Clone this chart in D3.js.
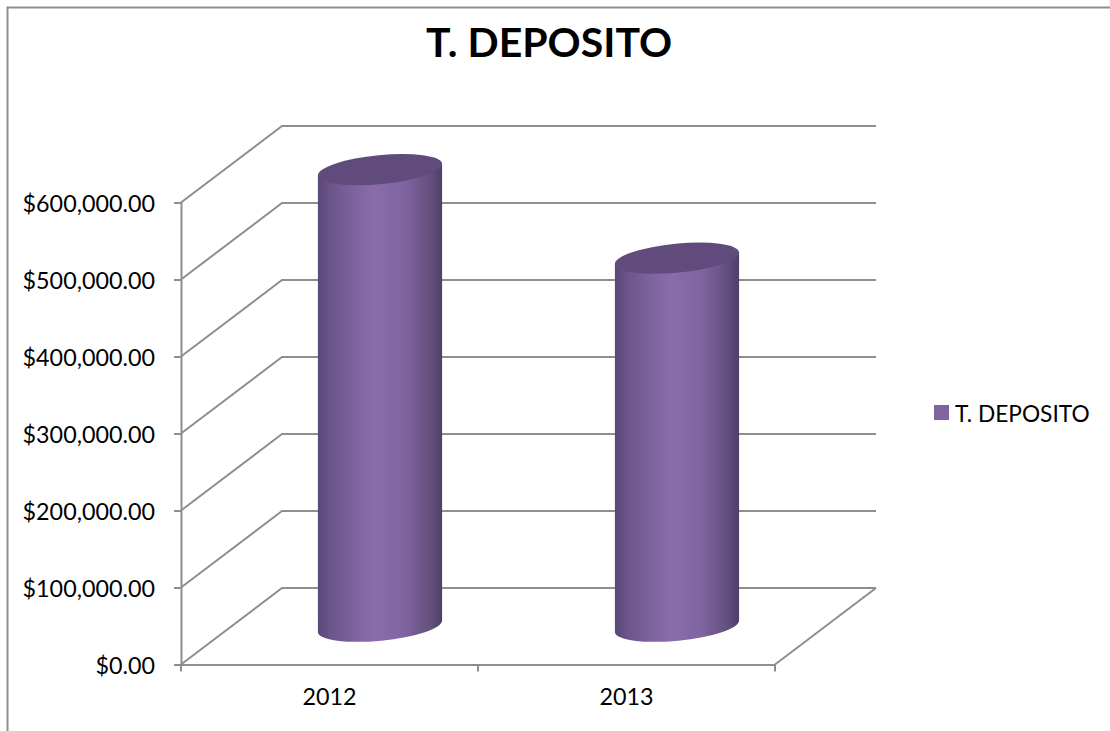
<!DOCTYPE html>
<html>
<head>
<meta charset="utf-8">
<script src="https://cdn.jsdelivr.net/npm/d3@7"></script>
<style>
html,body{margin:0;padding:0;background:#fff;overflow:hidden}
text{font-family:Lato,"Open Sans",sans-serif;fill:#000}
</style>
</head>
<body>
<svg id="chart" width="1110" height="731"></svg>
<script>
const chartTitle = "T. DEPOSITO";
const categories = ["2012", "2013"];
const seriesName = "T. DEPOSITO";
const seriesValues = [593000, 478000];
const yTicks = [0, 100000, 200000, 300000, 400000, 500000, 600000];

const gridColor = "#8e8e8e";
const svg = d3.select("#chart");
const depth = {dx: 101, dy: -76.5};

const x = d3.scaleBand().domain(categories).range([181, 775]);
const y = d3.scaleLinear().domain([0, 600000]).range([664.5, 202.5]);

// frame
svg.append("path").attr("d", "M7.5,731V7.5H1110").attr("fill", "none")
  .attr("stroke", "#8e8e8e").attr("stroke-width", 2);

// title
svg.append("text").attr("x", 549).attr("y", 57).attr("text-anchor", "middle")
  .attr("font-size", 41).attr("font-weight", 700).text(chartTitle);

// gradient
const defs = svg.append("defs");
const grad = defs.append("linearGradient").attr("id", "cyl");
[[0, "#5a4875"], [0.1, "#6b5589"], [0.3, "#7e63a0"], [0.45, "#8a6cab"], [0.7, "#7f64a0"], [0.9, "#64507f"], [1, "#4f3f68"]]
  .forEach(([o, c]) => grad.append("stop").attr("offset", o).attr("stop-color", c));

// grid: back wall, side wall, floor
const gridG = svg.append("g").attr("fill", "none").attr("stroke", gridColor).attr("stroke-width", 2);
yTicks.forEach(t => {
  gridG.append("path").attr("d", d3.line()([
    [x.range()[0], y(t)],
    [x.range()[0] + depth.dx, y(t) + depth.dy],
    [x.range()[1] + depth.dx, y(t) + depth.dy]
  ]));
});
gridG.append("line").attr("x1", x.range()[1]).attr("y1", y(0))
  .attr("x2", x.range()[1] + depth.dx).attr("y2", y(0) + depth.dy);

// y axis
const yAxis = d3.axisLeft(y).tickValues(yTicks).tickFormat(d3.format("$,.2f")).tickSize(7).tickPadding(19);
const yG = svg.append("g").attr("transform", "translate(181,0)").call(yAxis);
yG.selectAll("path,line").attr("stroke", gridColor).attr("stroke-width", 2);
yG.selectAll("text").attr("font-size", 23.3).attr("font-family", "Lato,'Open Sans',sans-serif").attr("fill", "#000")
  .attr("transform", "translate(0,2)");

// x axis
const xAxis = d3.axisBottom(x).tickSize(0).tickPadding(24);
const xG = svg.append("g").attr("transform", `translate(0,${y(0)})`).call(xAxis);
xG.select(".domain").attr("stroke", gridColor).attr("stroke-width", 2);
xG.selectAll("text").attr("font-size", 23.3).attr("font-family", "Lato,'Open Sans',sans-serif").attr("fill", "#000");
const xEdges = [...categories.map(c => x(c)), x.range()[1]];
svg.append("g").selectAll("line").data(xEdges).join("line")
  .attr("x1", d => d).attr("x2", d => d).attr("y1", y(0)).attr("y2", y(0) + 7)
  .attr("stroke", gridColor).attr("stroke-width", 2);

// cylinders
const rx = x.bandwidth() * 0.21, ry = 14.5, rot = -5.5;
const rad = rot * Math.PI / 180;
const ex = rx * Math.cos(rad), ey = rx * Math.sin(rad);
const bars = svg.append("g").selectAll("g").data(categories.map((c, i) => ({c, v: seriesValues[i]}))).join("g");
bars.append("path").attr("fill", "url(#cyl)").attr("d", d => {
  const cx = x(d.c) + x.bandwidth() / 2 + depth.dx / 2;
  const yb = y(0) + depth.dy / 2, yt = y(d.v) + depth.dy / 2;
  return `M${cx - ex},${yt - ey}L${cx - ex},${yb - ey}` +
    `A${rx},${ry} ${rot} 0 0 ${cx + ex},${yb + ey}L${cx + ex},${yt + ey}Z`;
});
bars.append("ellipse").attr("fill", "#604b7c")
  .attr("rx", rx).attr("ry", ry)
  .attr("transform", d => `translate(${x(d.c) + x.bandwidth() / 2 + depth.dx / 2},${y(d.v) + depth.dy / 2}) rotate(${rot})`);

// legend
svg.append("rect").attr("x", 934).attr("y", 405).attr("width", 15).attr("height", 15).attr("fill", "#8064a2");
svg.append("text").attr("x", 955).attr("y", 422).attr("font-size", 22.7).text(seriesName);
</script>
</body>
</html>
